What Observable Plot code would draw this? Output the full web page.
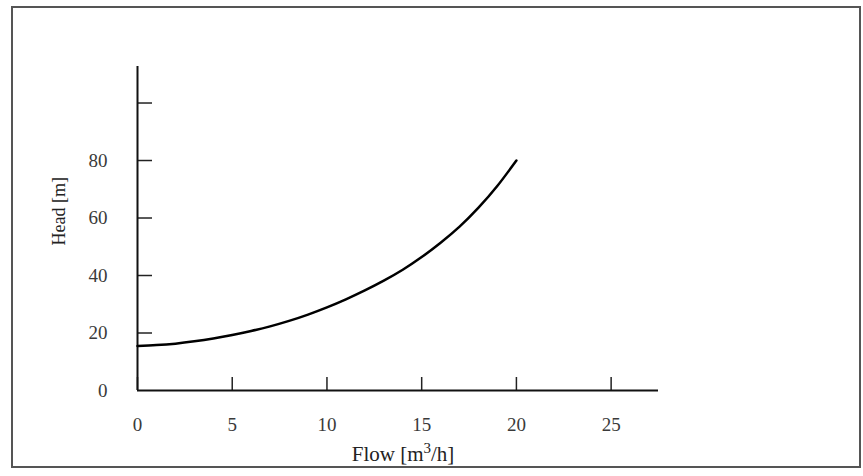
<!DOCTYPE html>
<html>
<head>
<meta charset="utf-8">
<script src="https://cdn.jsdelivr.net/npm/d3@7"></script>
<script src="https://cdn.jsdelivr.net/npm/@observablehq/plot@0.6"></script>
<style>
  html, body { margin: 0; padding: 0; background: #fff; }
  #wrap { position: relative; width: 863px; height: 476px; }
  #frame { position: absolute; left: 11px; top: 6px; width: 850px; height: 462px; border: 2px solid #555; box-sizing: border-box; pointer-events: none; }
</style>
</head>
<body>
<div id="wrap"><div id="frame"></div></div>
<script>
const flow = [0, 1, 2, 3, 4, 5, 6, 7, 8, 9, 10, 11, 12, 13, 14, 15, 16, 17, 18, 19, 20];
const head = [15.5, 15.8, 16.3, 17.1, 18.1, 19.3, 20.7, 22.3, 24.2, 26.4, 28.9, 31.7, 34.8, 38.2, 42.0, 46.4, 51.4, 57.0, 63.6, 71.2, 80];
const xTicks = [0, 5, 10, 15, 20, 25];
const yTickMarks = [20, 40, 60, 80, 100];
const yTickLabels = [0, 20, 40, 60, 80];
const xTitle = "Flow [m\u00b3/h]";
const yTitle = "Head [m]";

const data = flow.map((q, i) => ({q, h: head[i]}));

const chart = Plot.plot({
  width: 863,
  height: 476,
  marginLeft: 137,
  marginRight: 205,
  marginTop: 66,
  marginBottom: 86,
  x: {domain: [0, 27.5]},
  y: {domain: [0, 112.7]},
  style: {fontFamily: "'Liberation Serif', serif", fontSize: "19px", color: "#333", background: "transparent"},
  marks: [
    Plot.axisX({ticks: xTicks, tickSize: -13, tickFormat: () => "", label: null, stroke: "#222", strokeWidth: 1.5}),
    Plot.axisX({ticks: xTicks, tickSize: 0, tickPadding: 27, label: null, fill: "#3a3a3a", fontSize: 19}),
    Plot.axisY({ticks: yTickMarks, tickSize: -15, tickFormat: () => "", label: null, stroke: "#222", strokeWidth: 1.5}),
    Plot.axisY({ticks: yTickLabels, tickSize: 0, tickPadding: 30, label: null, fill: "#3a3a3a", fontSize: 19}),
    Plot.ruleX([0], {stroke: "#111", strokeWidth: 2}),
    Plot.ruleY([0], {stroke: "#111", strokeWidth: 2}),
    Plot.line(data, {x: "q", y: "h", curve: "natural", stroke: "#000", strokeWidth: 2.5}),
    Plot.text([xTitle], {text: d => d, frameAnchor: "bottom", dx: 5, dy: 64, lineAnchor: "middle", fontSize: 21, fill: "#222"}),
    Plot.text([yTitle], {text: d => d, frameAnchor: "left", rotate: -90, dx: -78, dy: 17, lineAnchor: "middle", fontSize: 18, fill: "#222"})
  ]
});
chart.style.position = "absolute";
chart.style.left = "0";
chart.style.top = "0";
// render the superscript 3 as a raised smaller glyph, as in the reference
chart.querySelectorAll("text").forEach(t => {
  if (t.textContent === xTitle) {
    const ns = "http://www.w3.org/2000/svg";
    while (t.firstChild) t.removeChild(t.firstChild);
    const a = document.createElementNS(ns, "tspan"); a.textContent = "Flow [m";
    const b = document.createElementNS(ns, "tspan"); b.textContent = "3"; b.setAttribute("dy", "-8"); b.setAttribute("font-size", "15");
    const c = document.createElementNS(ns, "tspan"); c.textContent = "/h]"; c.setAttribute("dy", "8");
    t.append(a, b, c);
  }
});
document.getElementById("wrap").prepend(chart);
</script>
</body>
</html>
